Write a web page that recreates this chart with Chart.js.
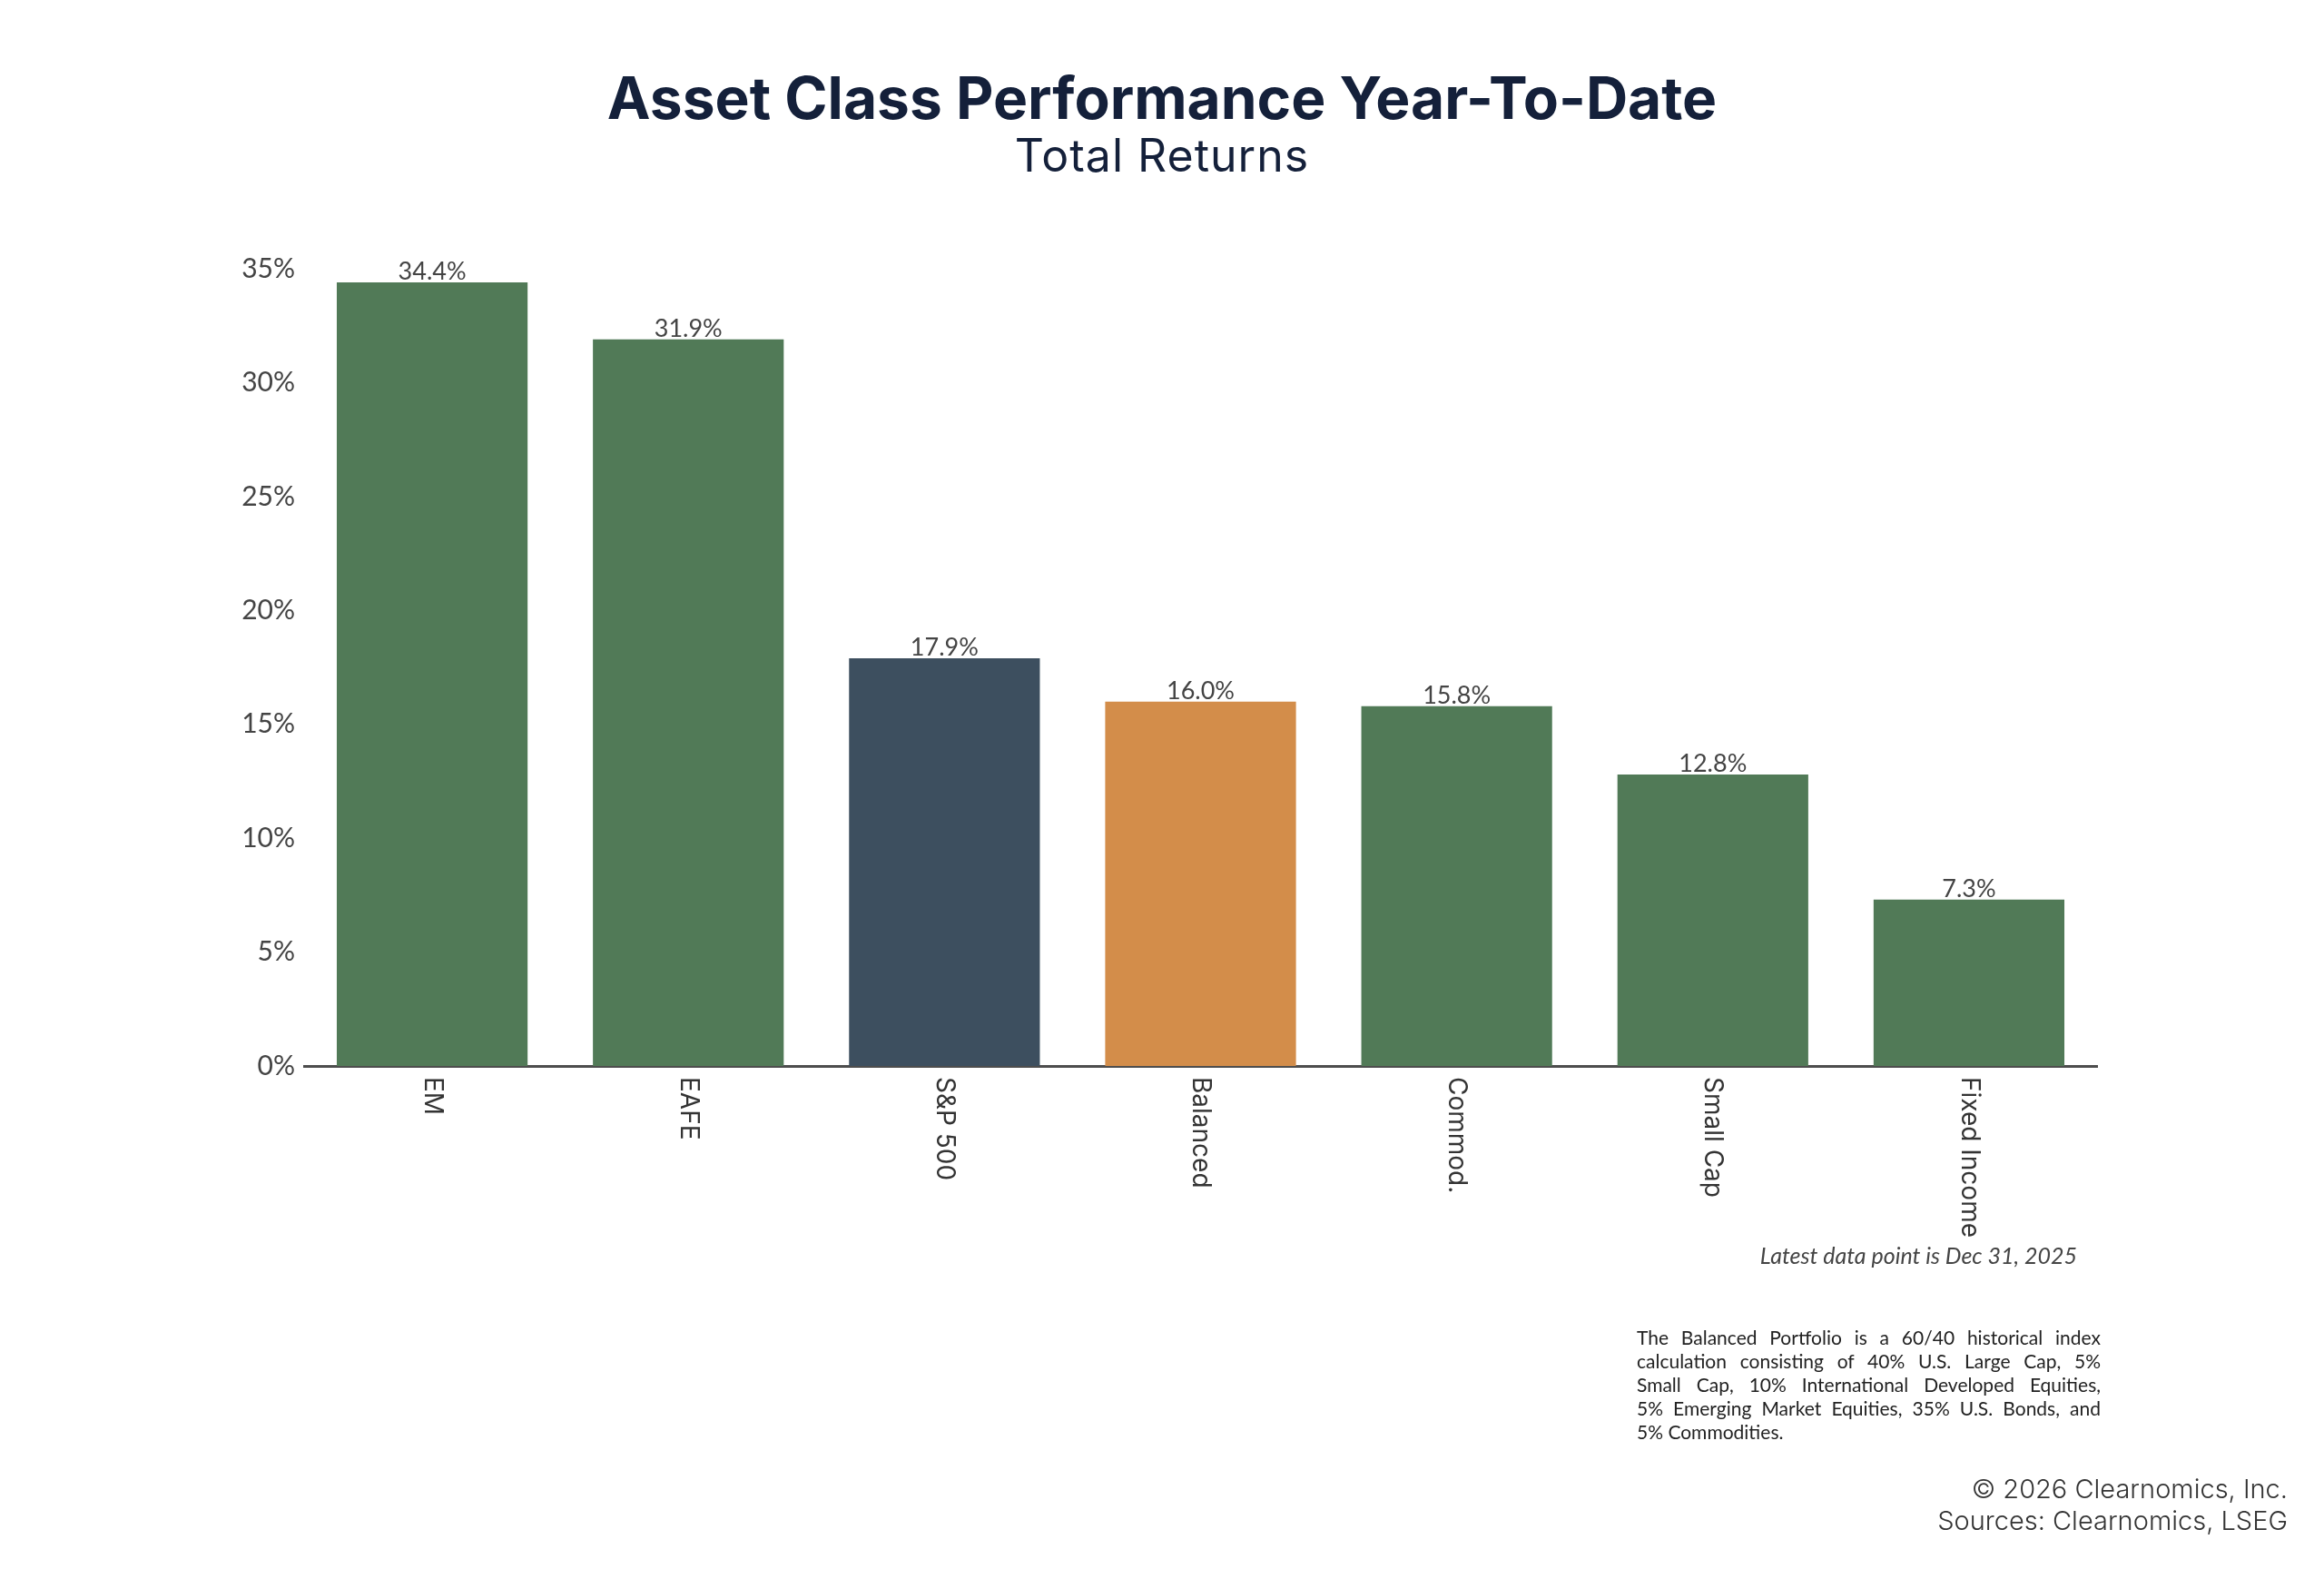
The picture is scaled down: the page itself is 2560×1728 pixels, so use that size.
<!DOCTYPE html>
<html>
<head>
<meta charset="utf-8">
<script src="https://cdn.jsdelivr.net/npm/chart.js@4.4.1/dist/chart.umd.min.js"></script>
<style>
  body { margin:0; background:#fff; }
  #wrap { position:absolute; left:0; top:0; width:2560px; height:1728px; }
  .txt { position:absolute; white-space:nowrap; }
  #title { left:0; width:2560px; top:76px; text-align:center; font-family:Inter, sans-serif; font-weight:700; font-size:64px; line-height:1; color:#14203a; }
  #subtitle { left:0; width:2560px; top:146px; text-align:center; font-family:Inter, sans-serif; font-weight:400; font-size:50px; letter-spacing:1px; line-height:1; color:#14203a; }
  #latest { right:272px; top:1370px; font-family:Lato, sans-serif; font-style:italic; font-size:25px; line-height:1; color:#444; }
  #foot { left:1803px; top:1460px; width:511px; font-family:Lato, sans-serif; font-size:21px; line-height:26px; color:#222; }
  #foot div { text-align:justify; text-align-last:justify; }
  #foot div.last { text-align-last:left; }
  #copy { right:40px; top:1622px; text-align:right; font-family:Inter, sans-serif; font-weight:300; font-size:29px; line-height:35px; color:#333; }
</style>
</head>
<body>
<div id="wrap"><canvas id="perf"></canvas></div>
<div class="txt" id="title">Asset Class Performance Year-To-Date</div>
<div class="txt" id="subtitle">Total Returns</div>
<div class="txt" id="latest">Latest data point is Dec 31, 2025</div>
<div class="txt" id="foot">
  <div>The Balanced Portfolio is a 60/40 historical index</div>
  <div>calculation consisting of 40% U.S. Large Cap, 5%</div>
  <div>Small Cap, 10% International Developed Equities,</div>
  <div>5% Emerging Market Equities, 35% U.S. Bonds, and</div>
  <div class="last">5% Commodities.</div>
</div>
<div class="txt" id="copy">© 2026 Clearnomics, Inc.<br>Sources: Clearnomics, LSEG</div>
<script>
const categories = ['EM', 'EAFE', 'S&P 500', 'Balanced', 'Commod.', 'Small Cap', 'Fixed Income'];
const returns = [34.4, 31.9, 17.9, 16.0, 15.8, 12.8, 7.3];
const barColors = ['#517a57', '#517a57', '#3d4f5f', '#d38d4a', '#517a57', '#517a57', '#517a57'];
const yTicks = [0, 5, 10, 15, 20, 25, 30, 35];

// value labels above each bar
const valueLabels = {
  id: 'valueLabels',
  afterDatasetsDraw(chart){
    const ctx = chart.ctx;
    const meta = chart.getDatasetMeta(0);
    ctx.save();
    ctx.font = '27px Lato';
    ctx.fillStyle = '#444';
    ctx.textAlign = 'center';
    ctx.textBaseline = 'bottom';
    meta.data.forEach((bar, i) => {
      ctx.fillText(returns[i].toFixed(1) + '%', bar.x, bar.y + 2);
    });
    ctx.restore();
  }
};

// category labels turned 90deg clockwise, reading top to bottom
const downLabels = {
  id: 'downLabels',
  afterDraw(chart){
    const ctx = chart.ctx;
    const x = chart.scales.x;
    ctx.save();
    ctx.font = '28px Inter';
    ctx.fillStyle = '#333';
    ctx.textAlign = 'left';
    ctx.textBaseline = 'middle';
    categories.forEach((c, i) => {
      ctx.save();
      ctx.translate(x.getPixelForValue(i), chart.chartArea.bottom + 12);
      ctx.rotate(Math.PI / 2);
      ctx.fillText(c, 0, 0);
      ctx.restore();
    });
    ctx.restore();
  }
};

new Chart(document.getElementById('perf'), {
  type: 'bar',
  data: {
    labels: categories,
    datasets: [{
      data: returns,
      backgroundColor: barColors,
      barPercentage: 0.745,
      categoryPercentage: 1,
    }]
  },
  options: {
    responsive: true,
    maintainAspectRatio: false,
    animation: false,
    devicePixelRatio: 1,
    layout: {
      padding: { top: 296, left: 0, right: 250, bottom: 554 }
    },
    plugins: {
      legend: { display: false },
      tooltip: { enabled: false },
    },
    scales: {
      x: {
        grid: { display: false },
        border: { display: true, color: '#4d4d4d', width: 3 },
        ticks: { display: false },
        afterFit(scale){ scale.height = 0; },
      },
      y: {
        min: 0,
        max: 35,
        grid: { display: false },
        border: { display: false },
        afterBuildTicks(scale){ scale.ticks = yTicks.map(v => ({ value: v })); },
        afterFit(scale){ scale.width = 335; },
        ticks: {
          padding: 2,
          color: '#444',
          font: { family: 'Lato', size: 30 },
          callback: v => v + '%',
        }
      }
    }
  },
  plugins: [valueLabels, downLabels]
});
</script>
</body>
</html>
